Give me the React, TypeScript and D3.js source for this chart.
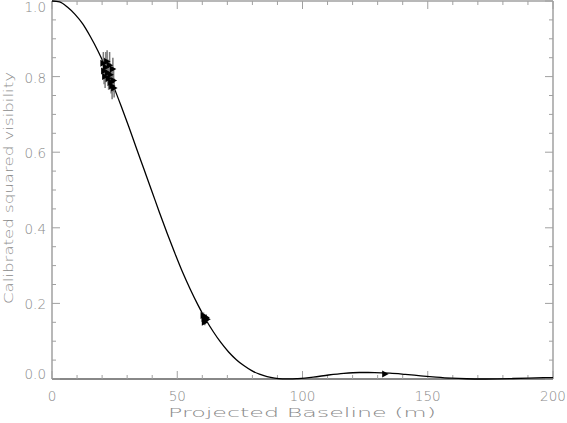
import React from "react";
import * as d3 from "d3";

// Model curve (projected baseline in m, squared visibility)
const modelB = [0, 3, 6.13, 9.2, 12.27, 15.3, 18.4, 21.5, 24.53, 27.6, 30.66, 33.7, 36.8, 39.9, 42.93, 46, 49.06, 52.1, 55.19, 58.3, 61.33, 64.4, 67.46, 70.5, 73.59, 76.7, 79.72, 82.8, 85.86, 88.9, 91.99, 95, 98.12, 104.3, 110.4, 116.5, 122.7, 128.8, 134.9, 141, 147.2, 153.3, 159.4, 165.5, 171.7, 177.8, 184, 190.1, 196.2, 200];
const modelV2 = [1, 0.9976, 0.9841, 0.9646, 0.9394, 0.9060, 0.8671, 0.8230, 0.7748, 0.7220, 0.6674, 0.6105, 0.5534, 0.4962, 0.4397, 0.3850, 0.3326, 0.2830, 0.2376, 0.1955, 0.1582, 0.1250, 0.0960, 0.0715, 0.0511, 0.0348, 0.0220, 0.0127, 0.0062, 0.0022, 0.0003, 0.0001, 0.0011, 0.0050, 0.0106, 0.0150, 0.0172, 0.0170, 0.0154, 0.0122, 0.0085, 0.0050, 0.0022, 0.0006, 0.0000, 0.0004, 0.0013, 0.0024, 0.0034, 0.0037];

// Measured points
const obsB = [20.5, 20.8, 21.2, 21.5, 22.0, 22.3, 22.6, 23.0, 23.3, 23.6, 24.0, 24.3, 24.6, 24.8, 60.5, 60.9, 61.2, 61.6, 61.0, 62.0, 133];
const obsV2 = [0.835, 0.815, 0.800, 0.825, 0.840, 0.810, 0.795, 0.830, 0.805, 0.785, 0.775, 0.820, 0.790, 0.770, 0.168, 0.160, 0.155, 0.163, 0.150, 0.158, 0.013];
const obsErr = [0.03, 0.035, 0.03, 0.04, 0.03, 0.035, 0.03, 0.035, 0.03, 0.03, 0.035, 0.03, 0.03, 0.025, 0.008, 0.008, 0.008, 0.008, 0.008, 0.008, 0.003];

const xMajor = [0, 50, 100, 150, 200];
const xMinor = d3.range(0, 201, 10);
const yMajor = [0, 0.2, 0.4, 0.6, 0.8, 1.0];
const yMinor = d3.range(0, 1.0001, 0.05);

const W = 567, H = 423;
const L = 52, R = 553, T = 1, B = 379;

export default function App() {
  const x = d3.scaleLinear().domain([0, 200]).range([L, R]);
  const y = d3.scaleLinear().domain([0, 1]).range([B, T]);
  const line = d3
    .line<number>()
    .x((_, i) => x(modelB[i]))
    .y((_, i) => y(modelV2[i]))
    .curve(d3.curveMonotoneX);
  const path = line(modelV2) || "";
  const font = "'DejaVu Sans', sans-serif";
  const txt = "#8a8a8a";
  const axc = "#a0a0a0";
  const tri = (cx: number, cy: number) =>
    `M${cx - 3},${cy - 3.5} L${cx + 3.5},${cy} L${cx - 3},${cy + 3.5} Z`;
  return (
    <svg width={W} height={H} style={{ position: "absolute", left: 0, top: 0, background: "#fff" }}>
      <rect x={0} y={0} width={W} height={H} fill="#fff" />
      {/* frame */}
      <line x1={L} x2={L} y1={T} y2={B} stroke={axc} strokeWidth={1.5} />
      <line x1={R} x2={R} y1={T} y2={B} stroke={axc} strokeWidth={1.5} />
      <line x1={L} x2={R} y1={T} y2={T} stroke={axc} strokeWidth={1.5} />
      <line x1={L} x2={R} y1={B} y2={B} stroke="#606060" strokeWidth={1.5} />
      {/* x ticks */}
      {xMinor.map((v) => {
        const maj = xMajor.includes(v);
        const len = maj ? 8 : 4;
        return (
          <g key={"xt" + v}>
            <line x1={x(v)} x2={x(v)} y1={B} y2={B - len} stroke={axc} strokeWidth={1} />
            <line x1={x(v)} x2={x(v)} y1={T} y2={T + len} stroke={axc} strokeWidth={1} />
          </g>
        );
      })}
      {/* y ticks */}
      {yMinor.map((v) => {
        const maj = yMajor.some((m) => Math.abs(m - v) < 1e-6);
        const len = maj ? 8 : 4;
        return (
          <g key={"yt" + v.toFixed(2)}>
            <line x1={L} x2={L + len} y1={y(v)} y2={y(v)} stroke={axc} strokeWidth={1} />
            <line x1={R} x2={R - len} y1={y(v)} y2={y(v)} stroke={axc} strokeWidth={1} />
          </g>
        );
      })}
      {/* x tick labels */}
      {xMajor.map((v) => (
        <text key={"xl" + v} x={x(v)} y={401} textAnchor="middle" fontFamily={font} fontWeight={200} fontSize={13.5} fill={txt}>
          {v}
        </text>
      ))}
      {/* y tick labels */}
      {yMajor.map((v) => (
        <text
          key={"yl" + v}
          x={46}
          y={Math.max(12, Math.min(B, y(v) + 6))}
          textAnchor="end"
          fontFamily={font}
          fontWeight={200}
          fontSize={13.5}
          fill={txt}
        >
          {v.toFixed(1)}
        </text>
      ))}
      <text x={302} y={417} textAnchor="middle" fontFamily={font} fontWeight={200} fontSize={13} fill={txt} textLength={268} lengthAdjust="spacingAndGlyphs">
        Projected Baseline (m)
      </text>
      <text
        transform={`translate(13,${y(0.5) - 2}) rotate(-90)`}
        textAnchor="middle"
        fontFamily={font}
        fontWeight={200}
        fontSize={13}
        fill={txt}
        textLength={232}
        lengthAdjust="spacingAndGlyphs"
      >
        Calibrated squared visibility
      </text>
      {/* model */}
      <path d={path} fill="none" stroke="#000" strokeWidth={1.3} />
      {/* error bars */}
      {obsB.map((b, i) => (
        <line
          key={"e" + i}
          x1={x(b)}
          x2={x(b)}
          y1={y(obsV2[i] - obsErr[i])}
          y2={y(obsV2[i] + obsErr[i])}
          stroke="#777"
          strokeWidth={1.5}
        />
      ))}
      {obsB.map((b, i) => (
        <path key={"p" + i} d={tri(x(b), y(obsV2[i]))} fill="#000" />
      ))}
    </svg>
  );
}
